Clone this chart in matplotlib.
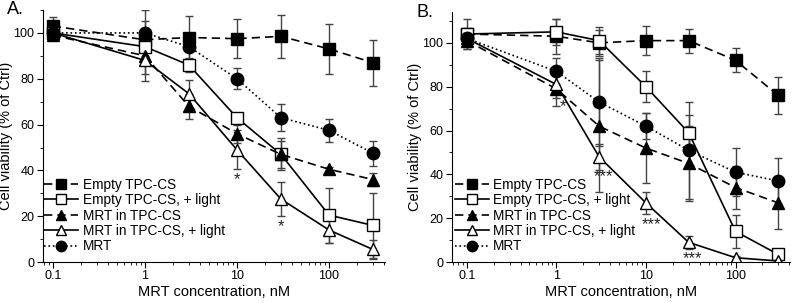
import matplotlib
matplotlib.use('Agg')
import matplotlib.pyplot as plt
from matplotlib.lines import Line2D
from matplotlib.ticker import FixedLocator, LogLocator, NullFormatter, MultipleLocator

plt.rcParams['font.family'] = ['Liberation Sans', 'DejaVu Sans']

conc = [0.1, 1, 3, 10, 30, 100, 300]
labels = ['Empty TPC-CS', 'Empty TPC-CS, + light', 'MRT in TPC-CS',
          'MRT in TPC-CS, + light', 'MRT']

# panel A: means and errors
a_empty = [103, 97, 98, 97.5, 98.5, 93, 87]
a_empty_err = [4, 8, 9.5, 8.5, 9.5, 11, 10]
a_empty_light = [100, 94, 86, 63, 47, 20.5, 16]
a_empty_light_err = [3, 6, 3, 2, 6, 12, 14]
a_mrt_tpc = [99, 90, 68, 56, 47, 40.5, 36]
a_mrt_tpc_err = [2, 8, 5.5, 4, 7, 1, 3]
a_mrt_tpc_light = [100, 88, 73.5, 49, 27.5, 14, 5.5]
a_mrt_tpc_light_err = [2, 9, 6, 8.5, 7.5, 5.5, 4]
a_mrt = [100, 100, 94, 80, 63, 57.5, 47.5]
a_mrt_err = [2, 10, 6, 4.5, 6, 5, 5.5]

# panel B
b_empty = [104, 103, 100, 101, 101, 92, 76]
b_empty_err = [2, 8, 6, 6.5, 5.5, 5.5, 8.5]
b_empty_light = [104, 105, 101, 80, 59, 14, 3.5]
b_empty_light_err = [7, 6, 6, 7, 8, 7.5, 2]
b_mrt_tpc = [101, 79, 62, 52, 45, 34, 27]
b_mrt_tpc_err = [4, 8, 30, 16, 17, 10, 12]
b_mrt_tpc_light = [102, 81, 48, 27, 9, 2, 0.5]
b_mrt_tpc_light_err = [2, 6, 6, 5, 3, 1, 0.5]
b_mrt = [102, 87, 73, 62, 51, 41, 37]
b_mrt_err = [3, 6, 20, 6, 22, 11, 10.5]

# significance marks: (x, y, text)
a_stars = [(10, 36, '*'), (30, 15.5, '*')]
b_stars = [(1.2, 71, '*'), (3.35, 39, '***'), (11.5, 17, '***'), (33, 1.5, '***')]

styles = [
    dict(marker='s', mfc='black', ls=(0, (5, 3))),
    dict(marker='s', mfc='white', ls='-'),
    dict(marker='^', mfc='black', ls=(0, (5, 3))),
    dict(marker='^', mfc='white', ls='-'),
    dict(marker='o', mfc='black', ls=':'),
]


def draw_panel(ax, series, stars, xlim, ylim, letter, hl, leg_pos):
    handles = []
    for (y, err), st, lab in zip(series, styles, labels):
        ms = 8 if st['marker'] == 's' else 9
        ax.errorbar(conc, y, yerr=err, color='black', ecolor='#444444',
                    elinewidth=1, capsize=3, capthick=1, lw=1.2,
                    ls=st['ls'], marker=st['marker'], mfc=st['mfc'],
                    mec='black', ms=ms)
        handles.append(Line2D([], [], color='black', lw=1.2, ls=st['ls'],
                              marker=st['marker'], mfc=st['mfc'],
                              mec='black', ms=ms - 1.5, label=lab))
    for x, y, t in stars:
        ax.text(x, y, t, ha='center', va='center', fontsize=12, color='#222222')
    ax.set_xscale('log')
    ax.set_xlim(*xlim)
    ax.set_ylim(*ylim)
    ax.xaxis.set_major_locator(FixedLocator([0.1, 1, 10, 100]))
    ax.set_xticklabels(['0.1', '1', '10', '100'])
    ax.xaxis.set_minor_locator(LogLocator(base=10, subs=range(2, 10)))
    ax.xaxis.set_minor_formatter(NullFormatter())
    ax.yaxis.set_major_locator(MultipleLocator(20))
    ax.yaxis.set_minor_locator(MultipleLocator(10))
    ax.tick_params(which='major', direction='out', length=4, labelsize=9, pad=2)
    ax.tick_params(which='minor', direction='out', length=2)
    ax.spines['top'].set_visible(False)
    ax.spines['right'].set_visible(False)
    ax.set_xlabel('MRT concentration, nM', fontsize=10.5, labelpad=2)
    ax.set_ylabel('Cell viability (% of Ctrl)', fontsize=10.5, labelpad=0.5)
    ax.text(-0.105, 1.0, letter, transform=ax.transAxes, fontsize=13,
            ha='left', va='center')
    fig.legend(handles=handles, loc='upper left', bbox_to_anchor=leg_pos,
               frameon=False, fontsize=9.8, handlelength=hl, handletextpad=0.3,
               labelspacing=0.1, borderpad=0, borderaxespad=0)


fig = plt.figure(figsize=(7.94, 3.03), dpi=100)
ax_a = fig.add_axes([0.054, 0.135, 0.431, 0.832])
ax_b = fig.add_axes([0.569, 0.135, 0.426, 0.825])

series_a = [(a_empty, a_empty_err), (a_empty_light, a_empty_light_err),
            (a_mrt_tpc, a_mrt_tpc_err), (a_mrt_tpc_light, a_mrt_tpc_light_err),
            (a_mrt, a_mrt_err)]
series_b = [(b_empty, b_empty_err), (b_empty_light, b_empty_light_err),
            (b_mrt_tpc, b_mrt_tpc_err), (b_mrt_tpc_light, b_mrt_tpc_light_err),
            (b_mrt, b_mrt_err)]

draw_panel(ax_a, series_a, a_stars, (0.078, 406), (0, 110), 'A.', 2.5, (0.056, 0.413))
draw_panel(ax_b, series_b, b_stars, (0.068, 406), (0, 114), 'B.', 2.5, (0.573, 0.413))

fig.savefig('out.png', dpi=100)
